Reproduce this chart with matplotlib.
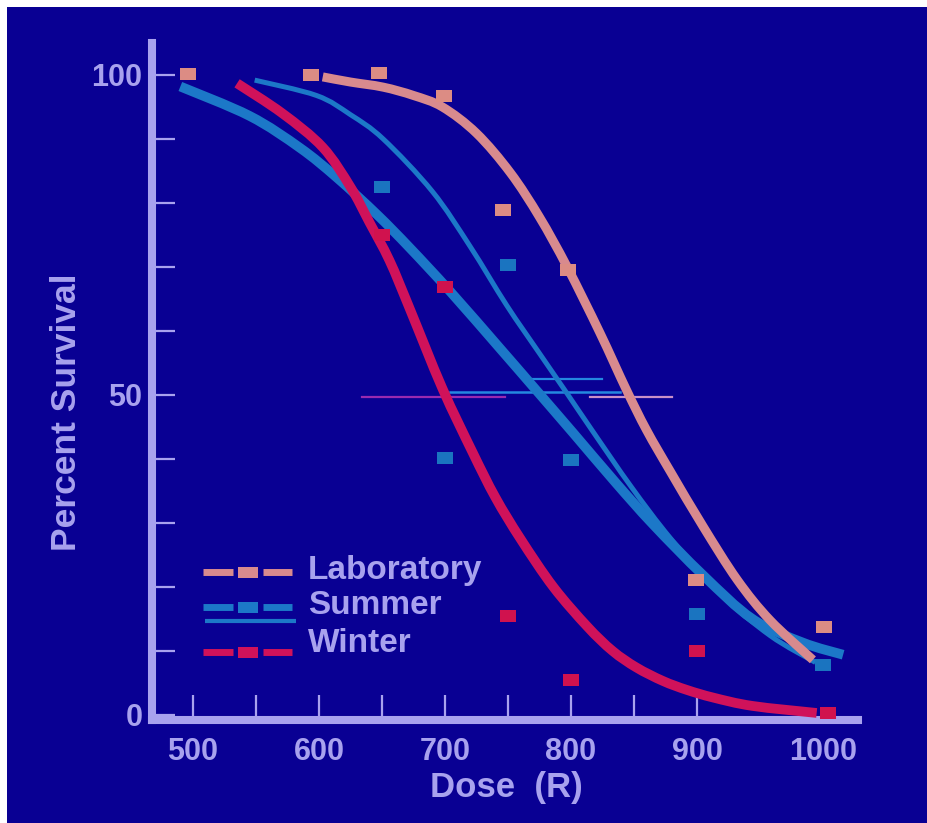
import numpy as np
import matplotlib
matplotlib.use("Agg")
import matplotlib.pyplot as plt
from matplotlib.lines import Line2D
from matplotlib.patches import Rectangle, PathPatch
from matplotlib.path import Path

# measured points
lab_x = [496, 594, 648, 699, 746, 798, 899, 1001]
lab_y = [100.2, 100, 100.3, 96.7, 78.9, 69.5, 21.1, 13.8]
summer_x = [650, 700, 750, 800, 900, 1000]
summer_y = [82.5, 40.2, 70.3, 39.8, 15.8, 7.8]
winter_x = [650, 700, 750, 800, 900, 1004]
winter_y = [75, 66.9, 15.5, 5.5, 10, 0.3]

# fitted curves
lab_fit_x = [603, 625, 651, 675, 698, 725, 752, 775, 797, 823, 844, 860, 879, 905, 932, 958, 992]
lab_fit_y = [99.7, 98.9, 98.1, 96.8, 95.0, 90.9, 84.7, 77.8, 70.0, 59.7, 50.8, 44.5, 38.0, 29.4, 21.1, 14.8, 8.6]
summer_fit_x = [490, 545, 585, 614, 646, 672, 704, 744, 770, 802, 835, 865, 905, 944, 984, 1016]
summer_fit_y = [98.2, 93.6, 88.6, 84.0, 78.2, 73.0, 66.2, 57.2, 51.3, 44.0, 36.4, 29.8, 21.8, 15.0, 11.3, 9.4]
summer2_fit_x = [549, 598, 625, 651, 690, 720, 749, 775, 797, 817, 848, 879, 918, 958, 994]
summer2_fit_y = [99.2, 96.8, 93.8, 90.0, 81.8, 73.2, 64.0, 56.5, 50.2, 44.4, 35.6, 27.6, 19.0, 12.4, 8.2]
winter_fit_x = [535, 571, 603, 625, 640, 656, 672, 698, 722, 740, 760, 786, 813, 833, 852, 873, 892, 913, 944, 995]
winter_fit_y = [98.7, 94, 88.7, 82.5, 77, 71, 63.5, 51, 41, 34, 27.5, 20, 13.8, 10, 7.4, 5.3, 3.9, 2.7, 1.4, 0.3]

# LD50 bars
winter_ci = [634, 748, 49.7]
summer_ci = [704, 839, 50.5]
summer2_ci = [767, 825, 52.5]
lab_ci = [815, 880, 49.7]

xticks = [500, 550, 600, 650, 700, 750, 800, 850, 900, 950, 1000]
xlabels = ['500', '', '600', '', '700', '', '800', '', '900', '', '1000']
yticks = np.arange(0, 101, 10)
ylabels = ['0', '', '', '', '', '50', '', '', '', '', '100']

bg = '#090093'
fg = '#a8a2ee'
c_lab = '#d88a8e'
c_sum = '#1c78c8'
c_win = '#d0125a'

plt.rcParams['font.family'] = ['Liberation Sans', 'DejaVu Sans']
plt.rcParams['font.weight'] = 'bold'

W, H = 928, 823
fig = plt.figure(figsize=(W / 100, H / 100), dpi=100)
fig.patch.set_facecolor('white')
fig.add_artist(Rectangle((7 / W, 0), 1, 1 - 7 / H, transform=fig.transFigure,
                         facecolor=bg, edgecolor='none', zorder=-10))

def P(px, py):
    return px / W, 1 - py / H

def smooth(x, y):
    # catmull-rom through the read points, as bezier segments
    p = np.column_stack([x, y]).astype(float)
    q = np.vstack([p[0], p, p[-1]])
    verts = [p[0]]
    codes = [Path.MOVETO]
    for i in range(1, len(q) - 2):
        c1 = q[i] + (q[i + 1] - q[i - 1]) / 6
        c2 = q[i + 1] - (q[i + 2] - q[i]) / 6
        verts += [c1, c2, q[i + 1]]
        codes += [Path.CURVE4] * 3
    return Path(verts, codes)

ax = fig.add_axes([152 / W, (H - 720) / H, 706 / W, 677 / H])
ax.set_facecolor('none')
ax.set_xlim(467.5, 1027.8)
ax.set_ylim(-0.8, 105)

for s in ['top', 'right']:
    ax.spines[s].set_visible(False)
for s in ['left', 'bottom']:
    ax.spines[s].set_color(fg)
    ax.spines[s].set_linewidth(5.8)
    ax.spines[s].set_capstyle('projecting')

ax.set_xticks(xticks)
ax.set_xticklabels(xlabels)
ax.set_yticks(yticks)
ax.set_yticklabels(ylabels)
ax.tick_params(axis='x', direction='in', length=18, width=1.6, color=fg,
               labelcolor=fg, labelsize=22, pad=12)
ax.tick_params(axis='y', direction='in', length=16.5, width=1.6, color=fg,
               labelcolor=fg, labelsize=22, pad=7)
for t in ax.xaxis.get_major_ticks()[-2:]:
    t.tick1line.set_visible(False)

# curves
for fx, fy, col, lw in [(summer_fit_x, summer_fit_y, c_sum, 7),
                        (summer2_fit_x, summer2_fit_y, c_sum, 3.6),
                        (lab_fit_x, lab_fit_y, c_lab, 6.5),
                        (winter_fit_x, winter_fit_y, c_win, 7)]:
    ax.add_patch(PathPatch(smooth(fx, fy), facecolor='none', edgecolor=col,
                           lw=lw, capstyle='butt', zorder=3))

# LD50 lines
ax.plot(winter_ci[:2], [winter_ci[2]] * 2, color='#9a2ab0', lw=1.6, zorder=2)
ax.plot(summer_ci[:2], [summer_ci[2]] * 2, color='#2488e0', lw=1.8, zorder=2)
ax.plot(summer2_ci[:2], [summer2_ci[2]] * 2, color='#2488e0', lw=1.6, zorder=2)
ax.plot(lab_ci[:2], [lab_ci[2]] * 2, color='#c890c8', lw=1.6, zorder=2)

# data squares
box = [(-1.25, -1), (1.25, -1), (1.25, 1), (-1.25, 1), (-1.25, -1)]
ax.plot(lab_x, lab_y, ls='none', marker=box, ms=11.5, color='#dc8c84', mew=0, zorder=5)
ax.plot(summer_x, summer_y, ls='none', marker=box, ms=11.5, color='#1a74c0', mew=0, zorder=5)
ax.plot(winter_x, winter_y, ls='none', marker=box, ms=11.5, color='#d0124e', mew=0, zorder=5)

# legend, drawn by hand like the slide
def key(py, color, lw=5):
    for a, b in [(203, 233), (263, 292)]:
        fig.add_artist(Line2D([P(a, py)[0], P(b, py)[0]], [P(a, py)[1]] * 2,
                              color=color, lw=lw, solid_capstyle='butt',
                              transform=fig.transFigure))
    x0, y0 = P(238, py + 5.5)
    fig.add_artist(Rectangle((x0, y0), 20 / W, 11 / H, transform=fig.transFigure,
                             facecolor=color, edgecolor='none'))

key(572, c_lab)
key(607, c_sum)
fig.add_artist(Line2D([P(205, 621)[0], P(296, 621)[0]], [P(205, 621)[1]] * 2,
                      color=c_sum, lw=3, solid_capstyle='butt', transform=fig.transFigure))
key(652, c_win)

for txt, py in [('Laboratory', 570), ('Summer', 606), ('Winter', 644)]:
    fig.text(*P(308, py), txt, color=fg, fontsize=24, ha='left', va='center')

fig.text(*P(506, 787), 'Dose  (R)', color=fg, fontsize=25, ha='center', va='center')
fig.text(*P(67, 412), 'Percent Survival', color=fg, fontsize=25.5, rotation=90,
         ha='center', va='center')

fig.savefig('out.png', dpi=100, facecolor=fig.get_facecolor())
